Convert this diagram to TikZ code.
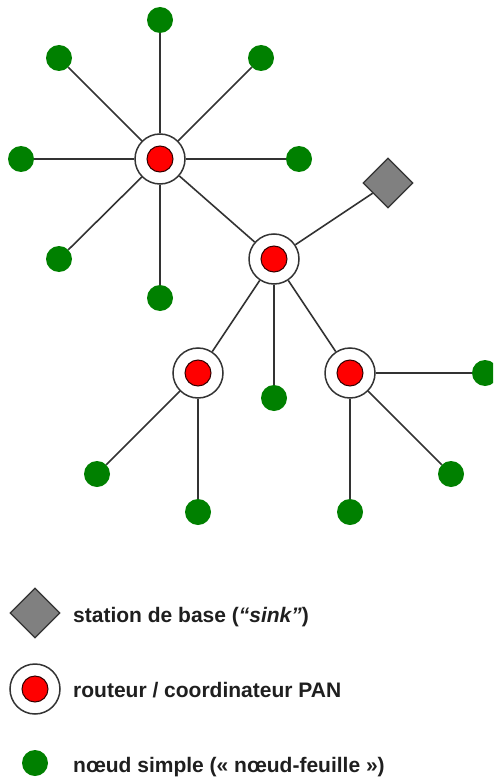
\documentclass[tikz,border=0pt]{standalone}
\usepackage{fontspec}
\setmainfont{Liberation Sans}
\usetikzlibrary{shapes.geometric}
\definecolor{leafgreen}{HTML}{008000}
\definecolor{linegray}{HTML}{333333}
\tikzset{
  link/.style={draw=linegray, line width=1.6pt},
  routerring/.style={circle, draw=linegray, line width=1.5pt, fill=white, minimum size=50pt, inner sep=0pt},
  routercore/.style={circle, draw=black!80!red, line width=1pt, fill=red, minimum size=26pt, inner sep=0pt},
  leaf/.style={circle, fill=leafgreen, minimum size=26pt, inner sep=0pt},
  sink/.style={diamond, draw=linegray, line width=1.2pt, fill=gray, minimum size=50pt, inner sep=0pt},
  legendtext/.style={anchor=base west, font=\bfseries\fontsize{21}{25}\selectfont, text=black!88, inner sep=0pt}
}
\begin{document}
\begin{tikzpicture}[x=1pt, y=-1pt]
\useasboundingbox (0,0) rectangle (493,778);
\clip (0,0) rectangle (493,778);
% routers (rings)
\node[routerring] (A) at (160,159) {};
\node[routerring] (B) at (274,259) {};
\node[routerring] (C) at (198,373) {};
\node[routerring] (D) at (350,373) {};
% sink
\node[sink] (S) at (388,183) {};
% leaves
\node[leaf] (a1) at (160,20) {};
\node[leaf] (a2) at (59,58) {};
\node[leaf] (a3) at (261,58) {};
\node[leaf] (a4) at (21,159) {};
\node[leaf] (a5) at (299,159) {};
\node[leaf] (a6) at (59,259) {};
\node[leaf] (a7) at (160,298) {};
\node[leaf] (b1) at (274,398) {};
\node[leaf] (c1) at (97,474) {};
\node[leaf] (c2) at (198,512) {};
\node[leaf] (d1) at (485,373) {};
\node[leaf] (d2) at (451,474) {};
\node[leaf] (d3) at (350,512) {};
% links
\foreach \l in {a1,a2,a3,a4,a5,a6,a7} \draw[link] (A) -- (\l);
\draw[link] (A) -- (B);
\draw[link] (B) -- (S);
\draw[link] (B) -- (C);
\draw[link] (B) -- (D);
\draw[link] (B) -- (b1);
\draw[link] (C) -- (c1);
\draw[link] (C) -- (c2);
\draw[link] (D) -- (d1);
\draw[link] (D) -- (d2);
\draw[link] (D) -- (d3);
% cores
\node[routercore] (Ac) at (A) {};
\node[routercore] (Bc) at (B) {};
\node[routercore] (Cc) at (C) {};
\node[routercore] (Dc) at (D) {};
% legend
\node[sink] (Ls) at (35,613) {};
\node[routerring] (Lr) at (35,689) {};
\node[routercore] (Lrc) at (35,689) {};
\node[leaf] (Ll) at (35,763) {};
\node[legendtext] (Lt1) at (73,622) {station de base (\textit{“sink”})};
\node[legendtext] (Lt2) at (73,697) {routeur / coordinateur PAN};
\node[legendtext] (Lt3) at (73,772) {nœud simple (« nœud-feuille »)};
\end{tikzpicture}
\end{document}
